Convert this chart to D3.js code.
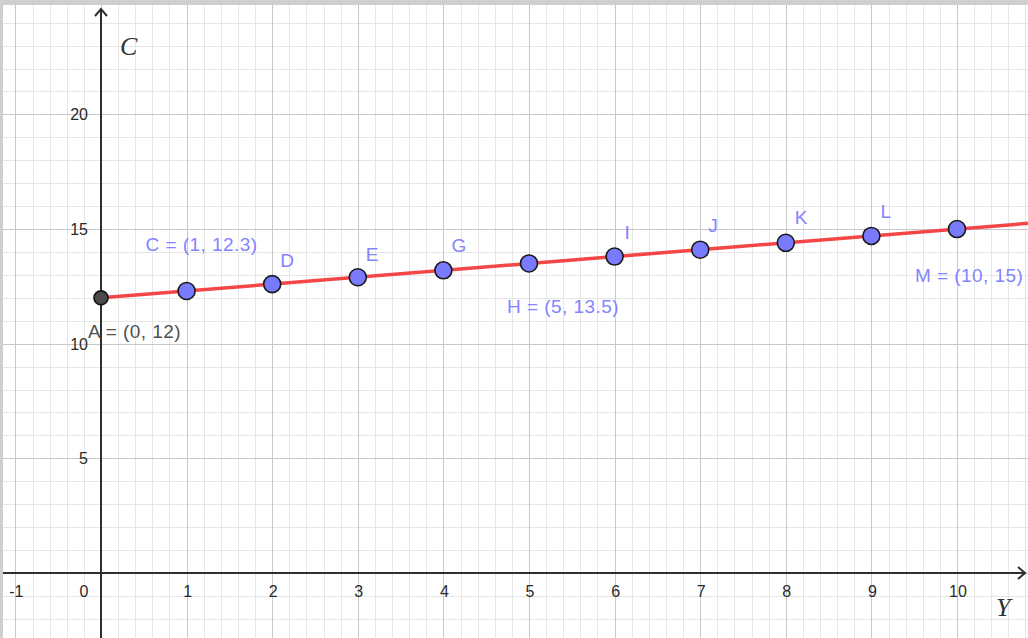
<!DOCTYPE html>
<html>
<head>
<meta charset="utf-8">
<script src="https://cdn.jsdelivr.net/npm/d3@7"></script>
<style>
	html, body { margin: 0; padding: 0; background: #fff; }
	svg { display: block; }
</style>
</head>
<body>
<div id="chart"></div>
<script>
const width = 1028,
	height = 638;

// points on the line
const pointNames = ["C", "D", "E", "G", "H", "I", "J", "K", "L", "M"];
const pointX = [1, 2, 3, 4, 5, 6, 7, 8, 9, 10];
const pointY = [12.3, 12.6, 12.9, 13.2, 13.5, 13.8, 14.1, 14.4, 14.7, 15];
const pointLabels = ["C = (1, 12.3)", "D", "E", "G", "H = (5, 13.5)", "I", "J", "K", "L", "M = (10, 15)"];
const startPoint = { name: "A", x: 0, y: 12, label: "A = (0, 12)" };

const xTicks = [-1, 0, 1, 2, 3, 4, 5, 6, 7, 8, 9, 10];
const yTicks = [5, 10, 15, 20];

// label offsets (px) relative to each point
const labelOffsets = [[-41, -40], [8, -17], [8, -16], [8, -18], [-22, 50], [10, -18], [8, -18], [9, -19], [9, -18], [-42, 53]];

const x = d3.scaleLinear().domain([0, 10]).range([101, 957]);
const y = d3.scaleLinear().domain([0, 20]).range([573, 114.4]);

const svg = d3
	.select("#chart")
	.append("svg")
	.attr("width", width)
	.attr("height", height);

svg.append("rect").attr("width", width).attr("height", height).attr("fill", "#fff");

// minor grid
const [x0, x1] = [x.invert(0), x.invert(width)];
const [y0, y1] = [y.invert(height), y.invert(0)];
const minorX = d3.range(Math.ceil(x0 * 5), Math.floor(x1 * 5) + 1).map((d) => d / 5);
const minorY = d3.range(Math.ceil(y0), Math.floor(y1) + 1);

const grid = svg.append("g").attr("shape-rendering", "crispEdges");
grid.selectAll(".mx")
	.data(minorX)
	.enter()
	.append("line")
	.attr("x1", (d) => Math.round(x(d)) + 0.5)
	.attr("x2", (d) => Math.round(x(d)) + 0.5)
	.attr("y1", 0)
	.attr("y2", height)
	.attr("stroke", "#e6e6e6");
grid.selectAll(".my")
	.data(minorY)
	.enter()
	.append("line")
	.attr("y1", (d) => Math.round(y(d)) + 0.5)
	.attr("y2", (d) => Math.round(y(d)) + 0.5)
	.attr("x1", 0)
	.attr("x2", width)
	.attr("stroke", "#e6e6e6");

// major grid
const majorX = d3.range(Math.ceil(x0), Math.floor(x1) + 1);
const majorY = d3.range(Math.ceil(y0 / 5) * 5, y1, 5);
grid.selectAll(".Mx")
	.data(majorX)
	.enter()
	.append("line")
	.attr("x1", (d) => Math.round(x(d)) + 0.5)
	.attr("x2", (d) => Math.round(x(d)) + 0.5)
	.attr("y1", 0)
	.attr("y2", height)
	.attr("stroke", "#c8c8c8");
grid.selectAll(".My")
	.data(majorY)
	.enter()
	.append("line")
	.attr("y1", (d) => Math.round(y(d)) + 0.5)
	.attr("y2", (d) => Math.round(y(d)) + 0.5)
	.attr("x1", 0)
	.attr("x2", width)
	.attr("stroke", "#c8c8c8");

// axes
const axisColor = "#2e2e2e";
const ax = svg.append("g").attr("stroke", axisColor).attr("stroke-width", 2).attr("fill", "none");
ax.append("line").attr("x1", 3).attr("x2", width - 3).attr("y1", y(0)).attr("y2", y(0));
ax.append("path").attr("d", `M${width - 10},${y(0) - 6}L${width - 3},${y(0)}L${width - 10},${y(0) + 6}`);
ax.append("line").attr("x1", x(0)).attr("x2", x(0)).attr("y1", 9).attr("y2", height);
ax.append("path").attr("d", `M${x(0) - 6},${16}L${x(0)},${9}L${x(0) + 6},${16}`);

// tick labels
const tickFont = "16px 'Liberation Sans', Arial, sans-serif";
svg.append("g")
	.selectAll("text")
	.data(xTicks)
	.enter()
	.append("text")
	.attr("x", (d) => (d === 0 ? x(d) - 17 : x(d) + 1))
	.attr("y", y(0) + 24)
	.attr("text-anchor", "middle")
	.attr("fill", "#2a2a2a")
	.style("font", tickFont)
	.text((d) => d);
svg.append("g")
	.selectAll("text")
	.data(yTicks)
	.enter()
	.append("text")
	.attr("x", x(0) - 13)
	.attr("y", (d) => y(d) + 6)
	.attr("text-anchor", "end")
	.attr("fill", "#2a2a2a")
	.style("font", tickFont)
	.text((d) => d);

// axis names
svg.append("text")
	.attr("x", 120)
	.attr("y", 55)
	.attr("fill", "#333")
	.style("font", "italic 26px 'Liberation Serif', 'Times New Roman', serif")
	.text("C");
svg.append("text")
	.attr("x", 996)
	.attr("y", 616)
	.attr("fill", "#333")
	.style("font", "italic 26px 'Liberation Serif', 'Times New Roman', serif")
	.text("Y");

// red line through A and M, extended to the right edge
const last = pointX.length - 1;
const slope = (pointY[last] - startPoint.y) / (pointX[last] - startPoint.x);
const xEnd = x.invert(width);
svg.append("line")
	.attr("x1", x(startPoint.x))
	.attr("y1", y(startPoint.y))
	.attr("x2", x(xEnd))
	.attr("y2", y(startPoint.y + slope * (xEnd - startPoint.x)))
	.attr("stroke", "#f44646")
	.attr("stroke-width", 3.5);

// points
const pts = pointNames.map((n, i) => ({ name: n, x: pointX[i], y: pointY[i], label: pointLabels[i], off: labelOffsets[i] }));
const labelFont = "19px 'Liberation Sans', Arial, sans-serif";

svg.append("g")
	.selectAll("circle")
	.data(pts)
	.enter()
	.append("circle")
	.attr("cx", (d) => x(d.x))
	.attr("cy", (d) => y(d.y))
	.attr("r", 8.5)
	.attr("fill", "#7a7aff")
	.attr("stroke", "#1a1a1a")
	.attr("stroke-width", 1.6);

svg.append("g")
	.selectAll("text")
	.data(pts)
	.enter()
	.append("text")
	.attr("x", (d) => x(d.x) + d.off[0])
	.attr("y", (d) => y(d.y) + d.off[1])
	.attr("fill", "#8484ff")
	.style("font", labelFont)
	.style("letter-spacing", "0.45px")
	.text((d) => d.label);

svg.append("circle")
	.attr("cx", x(startPoint.x))
	.attr("cy", y(startPoint.y))
	.attr("r", 7)
	.attr("fill", "#4a4a4a")
	.attr("stroke", "#111")
	.attr("stroke-width", 1.6);
svg.append("text")
	.attr("x", x(startPoint.x) - 13)
	.attr("y", y(startPoint.y) + 40)
	.attr("fill", "#505050")
	.style("font", labelFont)
	.style("letter-spacing", "0.45px")
	.text(startPoint.label);

// window frame strips
svg.append("rect").attr("x", 0).attr("y", 0).attr("width", width).attr("height", 5).attr("fill", "#cfcfcf");
svg.append("rect").attr("x", 0).attr("y", 0).attr("width", 3).attr("height", height).attr("fill", "#cfcfcf");
</script>
</body>
</html>
